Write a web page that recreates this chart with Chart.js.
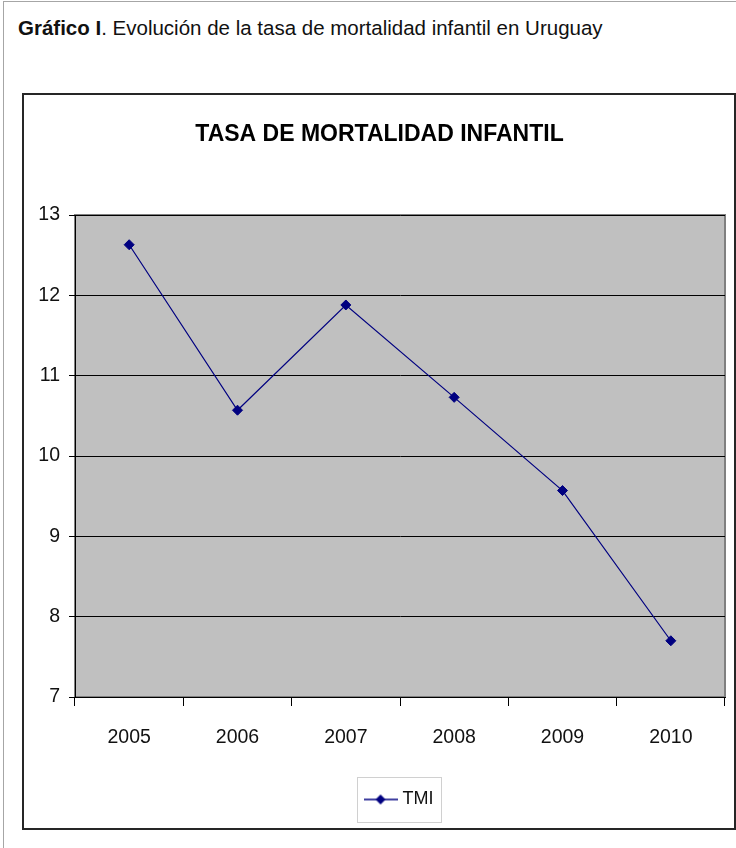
<!DOCTYPE html>
<html lang="es">
<head>
<meta charset="utf-8">
<title>Tasa de mortalidad infantil en Uruguay</title>
<script src="https://cdn.jsdelivr.net/npm/chart.js@4.4.1/dist/chart.umd.min.js"></script>
<style>
    html, body { margin: 0; padding: 0; background: #fff; }
    body {
        width: 736px; height: 848px; position: relative; overflow: hidden;
        font-family: 'Liberation Sans', Arial, sans-serif;
    }
    .marco { position: absolute; left: 3px; top: 1px; width: 760px; height: 870px; border: 1px solid #a6a6a6; }
    .encabezado { position: absolute; left: 18px; top: 16px; font-size: 20.5px; line-height: normal; color: #111; white-space: nowrap; }
    .caja { position: absolute; left: 22px; top: 93px; width: 710px; height: 733px; border: 2px solid #262626; }
    .caja canvas { display: block; }
</style>
</head>
<body>
<div class="marco"></div>
<div class="encabezado"><b>Gráfico I</b>. Evolución de la tasa de mortalidad infantil en Uruguay</div>
<div class="caja"><canvas id="grafico-tmi" width="710" height="733"></canvas></div>

<script>
// Datos
const anios = ['2005', '2006', '2007', '2008', '2009', '2010'];
const tmi = [12.63, 10.57, 11.88, 10.73, 9.57, 7.70];
const ticksY = [7, 8, 9, 10, 11, 12, 13];

const azul = '#000080';

// Marcador de la leyenda: línea con rombo
function marcadorLeyenda() {
    const c = document.createElement('canvas');
    c.width = 34;
    c.height = 12;
    const g = c.getContext('2d');
    g.strokeStyle = azul;
    g.lineWidth = 1.5;
    g.beginPath();
    g.moveTo(0, 6);
    g.lineTo(34, 6);
    g.stroke();
    g.fillStyle = azul;
    g.beginPath();
    g.moveTo(17, 1);
    g.lineTo(22, 6);
    g.lineTo(17, 11);
    g.lineTo(12, 6);
    g.closePath();
    g.fill();
    return c;
}

// Fondo gris del área de trazado y recuadro de la leyenda
const estiloExcel = {
    id: 'estiloExcel',
    afterLayout(chart) {
        // título y leyenda del original están algo desplazados a la derecha
        chart.titleBlock.left += 5;
        chart.titleBlock.right += 5;
        chart.legend.left += 26;
        chart.legend.right += 26;
    },
    beforeDraw(chart) {
        const { ctx, chartArea: a } = chart;
        ctx.save();
        ctx.fillStyle = '#c0c0c0';
        ctx.fillRect(a.left, a.top, a.width, a.height);
        ctx.strokeStyle = '#808080';
        ctx.lineWidth = 2;
        ctx.strokeRect(a.left, a.top, a.width, a.height);
        ctx.restore();
    },
    afterDraw(chart) {
        const hb = chart.legend.legendHitBoxes[0];
        if (!hb) return;
        const ctx = chart.ctx;
        ctx.save();
        ctx.strokeStyle = '#d0d0d0';
        ctx.lineWidth = 1;
        ctx.strokeRect(Math.round(hb.left - 11) + 0.5, Math.round(hb.top - 13.5) + 0.5,
            Math.round(hb.width + 18), Math.round(hb.height + 27));
        ctx.restore();
    }
};

Chart.defaults.font.family = "'Liberation Sans', Arial, sans-serif";

new Chart(document.getElementById('grafico-tmi'), {
    type: 'line',
    data: {
        labels: anios,
        datasets: [{
            label: 'TMI',
            data: tmi,
            borderColor: azul,
            backgroundColor: azul,
            borderWidth: 1.2,
            pointStyle: 'rectRot',
            pointRadius: 5,
            pointBorderWidth: 1,
            tension: 0,
            fill: false
        }]
    },
    options: {
        responsive: false,
        animation: false,
        events: [],
        layout: { padding: { left: 0, right: 9, top: 0, bottom: 9.5 } },
        plugins: {
            title: {
                display: true,
                text: 'TASA DE MORTALIDAD INFANTIL',
                color: '#000',
                font: { size: 23, weight: 'bold', lineHeight: 1.2 },
                padding: { top: 26, bottom: 66.4 }
            },
            legend: {
                position: 'bottom',
                labels: {
                    usePointStyle: true,
                    pointStyle: marcadorLeyenda(),
                    pointStyleWidth: 26,
                    padding: 12,
                    color: '#111',
                    font: { size: 18 }
                }
            },
            tooltip: { enabled: false }
        },
        scales: {
            x: {
                offset: true,
                afterFit: s => { s.height = 81.5; },
                border: { color: '#000', width: 1 },
                grid: { offset: true, drawOnChartArea: false, color: '#000', tickLength: 9 },
                ticks: { color: '#111', font: { size: 19.5 }, padding: 20, maxRotation: 0 }
            },
            y: {
                min: ticksY[0],
                max: ticksY[ticksY.length - 1],
                afterBuildTicks: s => { s.ticks = ticksY.map(v => ({ value: v })); },
                afterFit: s => { s.width = 51; },
                border: { color: '#000', width: 1 },
                grid: { color: '#000', lineWidth: 1, tickLength: 6 },
                ticks: { color: '#111', font: { size: 19.5 }, padding: 9 }
            }
        }
    },
    plugins: [estiloExcel]
});
</script>
</body>
</html>
